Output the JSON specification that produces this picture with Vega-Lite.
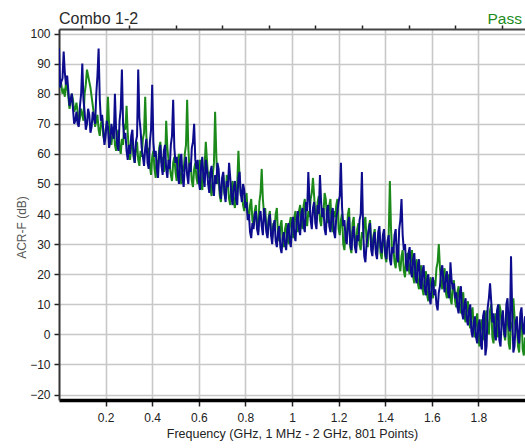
{
  "$schema": "https://vega.github.io/schema/vega-lite/v6.json",
  "width": 466,
  "height": 371,
  "autosize": "none",
  "padding": {"left": 59, "top": 29, "right": 0, "bottom": 48},
  "background": "white",
  "view": {"stroke": null},
  "config": {"font": "Liberation Sans, Arial, sans-serif"},
  "datasets": {
    "navy": [
      {"f":0,"v":95},{"f":0.005,"v":82},{"f":0.01,"v":84},{"f":0.015,"v":85},{"f":0.02,"v":94},{"f":0.025,"v":87},{"f":0.03,"v":83},{"f":0.035,"v":86},{"f":0.04,"v":81},{"f":0.045,"v":76},
      {"f":0.05,"v":78},{"f":0.055,"v":80},{"f":0.06,"v":75},{"f":0.065,"v":70},{"f":0.07,"v":71},{"f":0.075,"v":74},{"f":0.08,"v":70},{"f":0.085,"v":69},{"f":0.09,"v":76},{"f":0.095,"v":80},
      {"f":0.1,"v":90},{"f":0.105,"v":78},{"f":0.11,"v":74},{"f":0.115,"v":68},{"f":0.12,"v":70},{"f":0.125,"v":75},{"f":0.13,"v":73},{"f":0.135,"v":67},{"f":0.14,"v":69},{"f":0.145,"v":74},
      {"f":0.15,"v":72},{"f":0.155,"v":70},{"f":0.16,"v":80},{"f":0.165,"v":86},{"f":0.17,"v":95},{"f":0.175,"v":78},{"f":0.18,"v":71},{"f":0.185,"v":73},{"f":0.19,"v":68},{"f":0.195,"v":63},
      {"f":0.2,"v":66},{"f":0.205,"v":71},{"f":0.21,"v":69},{"f":0.215,"v":62},{"f":0.22,"v":64},{"f":0.225,"v":70},{"f":0.23,"v":67},{"f":0.235,"v":65},{"f":0.24,"v":80},{"f":0.245,"v":68},
      {"f":0.25,"v":63},{"f":0.255,"v":61},{"f":0.26,"v":71},{"f":0.265,"v":75},{"f":0.27,"v":88},{"f":0.275,"v":70},{"f":0.28,"v":65},{"f":0.285,"v":67},{"f":0.29,"v":61},{"f":0.295,"v":58},
      {"f":0.3,"v":63},{"f":0.305,"v":60},{"f":0.31,"v":66},{"f":0.315,"v":68},{"f":0.32,"v":60},{"f":0.325,"v":57},{"f":0.33,"v":64},{"f":0.335,"v":66},{"f":0.34,"v":88},{"f":0.345,"v":72},
      {"f":0.35,"v":68},{"f":0.355,"v":62},{"f":0.36,"v":59},{"f":0.365,"v":56},{"f":0.37,"v":62},{"f":0.375,"v":65},{"f":0.38,"v":57},{"f":0.385,"v":55},{"f":0.39,"v":64},{"f":0.395,"v":68},
      {"f":0.4,"v":83},{"f":0.405,"v":64},{"f":0.41,"v":59},{"f":0.415,"v":61},{"f":0.42,"v":55},{"f":0.425,"v":52},{"f":0.43,"v":60},{"f":0.435,"v":63},{"f":0.44,"v":56},{"f":0.445,"v":53},
      {"f":0.45,"v":61},{"f":0.455,"v":63},{"f":0.46,"v":55},{"f":0.465,"v":52},{"f":0.47,"v":58},{"f":0.475,"v":55},{"f":0.48,"v":63},{"f":0.485,"v":66},{"f":0.49,"v":78},{"f":0.495,"v":62},
      {"f":0.5,"v":57},{"f":0.505,"v":59},{"f":0.51,"v":53},{"f":0.515,"v":50},{"f":0.52,"v":58},{"f":0.525,"v":60},{"f":0.53,"v":52},{"f":0.535,"v":49},{"f":0.54,"v":56},{"f":0.545,"v":59},
      {"f":0.55,"v":53},{"f":0.555,"v":50},{"f":0.56,"v":57},{"f":0.565,"v":54},{"f":0.57,"v":62},{"f":0.575,"v":64},{"f":0.58,"v":70},{"f":0.585,"v":58},{"f":0.59,"v":55},{"f":0.595,"v":58},
      {"f":0.6,"v":51},{"f":0.605,"v":48},{"f":0.61,"v":56},{"f":0.615,"v":59},{"f":0.62,"v":52},{"f":0.625,"v":49},{"f":0.63,"v":58},{"f":0.635,"v":55},{"f":0.64,"v":50},{"f":0.645,"v":47},
      {"f":0.65,"v":54},{"f":0.655,"v":56},{"f":0.66,"v":49},{"f":0.665,"v":46},{"f":0.67,"v":53},{"f":0.675,"v":50},{"f":0.68,"v":57},{"f":0.685,"v":55},{"f":0.69,"v":48},{"f":0.695,"v":45},
      {"f":0.7,"v":52},{"f":0.705,"v":54},{"f":0.71,"v":47},{"f":0.715,"v":44},{"f":0.72,"v":51},{"f":0.725,"v":49},{"f":0.73,"v":57},{"f":0.735,"v":52},{"f":0.74,"v":46},{"f":0.745,"v":43},
      {"f":0.75,"v":49},{"f":0.755,"v":51},{"f":0.76,"v":45},{"f":0.765,"v":43},{"f":0.77,"v":52},{"f":0.775,"v":54},{"f":0.78,"v":47},{"f":0.785,"v":44},{"f":0.79,"v":50},{"f":0.795,"v":48},
      {"f":0.8,"v":42},{"f":0.805,"v":44},{"f":0.81,"v":38},{"f":0.815,"v":40},{"f":0.82,"v":34},{"f":0.825,"v":32},{"f":0.83,"v":37},{"f":0.835,"v":35},{"f":0.84,"v":40},{"f":0.845,"v":41},
      {"f":0.85,"v":35},{"f":0.855,"v":33},{"f":0.86,"v":39},{"f":0.865,"v":41},{"f":0.87,"v":36},{"f":0.875,"v":33},{"f":0.88,"v":42},{"f":0.885,"v":39},{"f":0.89,"v":34},{"f":0.895,"v":32},
      {"f":0.9,"v":38},{"f":0.905,"v":40},{"f":0.91,"v":33},{"f":0.915,"v":30},{"f":0.92,"v":36},{"f":0.925,"v":38},{"f":0.93,"v":31},{"f":0.935,"v":29},{"f":0.94,"v":34},{"f":0.945,"v":36},
      {"f":0.95,"v":29},{"f":0.955,"v":27},{"f":0.96,"v":32},{"f":0.965,"v":34},{"f":0.97,"v":30},{"f":0.975,"v":28},{"f":0.98,"v":35},{"f":0.985,"v":37},{"f":0.99,"v":31},{"f":0.995,"v":29},
      {"f":1,"v":37},{"f":1.005,"v":39},{"f":1.01,"v":33},{"f":1.015,"v":31},{"f":1.02,"v":38},{"f":1.025,"v":41},{"f":1.03,"v":35},{"f":1.035,"v":33},{"f":1.04,"v":40},{"f":1.045,"v":42},
      {"f":1.05,"v":36},{"f":1.055,"v":34},{"f":1.06,"v":44},{"f":1.065,"v":41},{"f":1.07,"v":54},{"f":1.075,"v":45},{"f":1.08,"v":38},{"f":1.085,"v":35},{"f":1.09,"v":42},{"f":1.095,"v":44},
      {"f":1.1,"v":37},{"f":1.105,"v":35},{"f":1.11,"v":43},{"f":1.115,"v":40},{"f":1.12,"v":53},{"f":1.125,"v":44},{"f":1.13,"v":39},{"f":1.135,"v":42},{"f":1.14,"v":35},{"f":1.145,"v":33},
      {"f":1.15,"v":41},{"f":1.155,"v":43},{"f":1.16,"v":36},{"f":1.165,"v":34},{"f":1.17,"v":40},{"f":1.175,"v":42},{"f":1.18,"v":34},{"f":1.185,"v":32},{"f":1.19,"v":39},{"f":1.195,"v":41},
      {"f":1.2,"v":44},{"f":1.205,"v":46},{"f":1.21,"v":57},{"f":1.215,"v":42},{"f":1.22,"v":36},{"f":1.225,"v":38},{"f":1.23,"v":32},{"f":1.235,"v":30},{"f":1.24,"v":37},{"f":1.245,"v":39},
      {"f":1.25,"v":30},{"f":1.255,"v":28},{"f":1.26,"v":34},{"f":1.265,"v":36},{"f":1.27,"v":29},{"f":1.275,"v":27},{"f":1.28,"v":33},{"f":1.285,"v":31},{"f":1.29,"v":38},{"f":1.295,"v":40},
      {"f":1.3,"v":54},{"f":1.305,"v":36},{"f":1.31,"v":26},{"f":1.315,"v":24},{"f":1.32,"v":30},{"f":1.325,"v":33},{"f":1.33,"v":35},{"f":1.335,"v":37},{"f":1.34,"v":28},{"f":1.345,"v":26},
      {"f":1.35,"v":32},{"f":1.355,"v":34},{"f":1.36,"v":27},{"f":1.365,"v":25},{"f":1.37,"v":34},{"f":1.375,"v":36},{"f":1.38,"v":29},{"f":1.385,"v":27},{"f":1.39,"v":33},{"f":1.395,"v":35},
      {"f":1.4,"v":27},{"f":1.405,"v":25},{"f":1.41,"v":31},{"f":1.415,"v":33},{"f":1.42,"v":25},{"f":1.425,"v":23},{"f":1.43,"v":29},{"f":1.435,"v":27},{"f":1.44,"v":33},{"f":1.445,"v":35},
      {"f":1.45,"v":26},{"f":1.455,"v":24},{"f":1.46,"v":35},{"f":1.465,"v":38},{"f":1.47,"v":45},{"f":1.475,"v":33},{"f":1.48,"v":28},{"f":1.485,"v":30},{"f":1.49,"v":23},{"f":1.495,"v":21},
      {"f":1.5,"v":27},{"f":1.505,"v":29},{"f":1.51,"v":21},{"f":1.515,"v":19},{"f":1.52,"v":25},{"f":1.525,"v":27},{"f":1.53,"v":19},{"f":1.535,"v":17},{"f":1.54,"v":23},{"f":1.545,"v":25},
      {"f":1.55,"v":17},{"f":1.555,"v":15},{"f":1.56,"v":21},{"f":1.565,"v":23},{"f":1.57,"v":15},{"f":1.575,"v":13},{"f":1.58,"v":18},{"f":1.585,"v":20},{"f":1.59,"v":12},{"f":1.595,"v":10},
      {"f":1.6,"v":17},{"f":1.605,"v":19},{"f":1.61,"v":13},{"f":1.615,"v":15},{"f":1.62,"v":10},{"f":1.625,"v":8},{"f":1.63,"v":14},{"f":1.635,"v":16},{"f":1.64,"v":21},{"f":1.645,"v":23},
      {"f":1.65,"v":17},{"f":1.655,"v":14},{"f":1.66,"v":19},{"f":1.665,"v":21},{"f":1.67,"v":14},{"f":1.675,"v":12},{"f":1.68,"v":24},{"f":1.685,"v":18},{"f":1.69,"v":15},{"f":1.695,"v":17},
      {"f":1.7,"v":12},{"f":1.705,"v":14},{"f":1.71,"v":9},{"f":1.715,"v":7},{"f":1.72,"v":14},{"f":1.725,"v":16},{"f":1.73,"v":7},{"f":1.735,"v":5},{"f":1.74,"v":10},{"f":1.745,"v":12},
      {"f":1.75,"v":5},{"f":1.755,"v":3},{"f":1.76,"v":8},{"f":1.765,"v":10},{"f":1.77,"v":1},{"f":1.775,"v":-1},{"f":1.78,"v":4},{"f":1.785,"v":6},{"f":1.79,"v":-1},{"f":1.795,"v":-3},
      {"f":1.8,"v":3},{"f":1.805,"v":5},{"f":1.81,"v":-3},{"f":1.815,"v":-5},{"f":1.82,"v":6},{"f":1.825,"v":8},{"f":1.83,"v":-7},{"f":1.835,"v":-4},{"f":1.84,"v":9},{"f":1.845,"v":12},
      {"f":1.85,"v":17},{"f":1.855,"v":11},{"f":1.86,"v":4},{"f":1.865,"v":7},{"f":1.87,"v":0},{"f":1.875,"v":-2},{"f":1.88,"v":8},{"f":1.885,"v":10},{"f":1.89,"v":-2},{"f":1.895,"v":-4},
      {"f":1.9,"v":5},{"f":1.905,"v":8},{"f":1.91,"v":1},{"f":1.915,"v":-1},{"f":1.92,"v":10},{"f":1.925,"v":12},{"f":1.93,"v":3},{"f":1.935,"v":1},{"f":1.94,"v":26},{"f":1.945,"v":8},
      {"f":1.95,"v":-6},{"f":1.955,"v":-4},{"f":1.96,"v":4},{"f":1.965,"v":6},{"f":1.97,"v":-1},{"f":1.975,"v":-3},{"f":1.98,"v":7},{"f":1.985,"v":9},{"f":1.99,"v":2},{"f":1.995,"v":0},
      {"f":2,"v":6}
    ],
    "green": [
      {"f":0,"v":82},{"f":0.005,"v":85},{"f":0.01,"v":83},{"f":0.015,"v":80},{"f":0.02,"v":81},{"f":0.025,"v":79},{"f":0.03,"v":84},{"f":0.035,"v":82},{"f":0.04,"v":79},{"f":0.045,"v":75},
      {"f":0.05,"v":77},{"f":0.055,"v":80},{"f":0.06,"v":78},{"f":0.065,"v":74},{"f":0.07,"v":75},{"f":0.075,"v":77},{"f":0.08,"v":74},{"f":0.085,"v":70},{"f":0.09,"v":72},{"f":0.095,"v":75},
      {"f":0.1,"v":73},{"f":0.105,"v":71},{"f":0.11,"v":80},{"f":0.115,"v":83},{"f":0.12,"v":88},{"f":0.125,"v":86},{"f":0.13,"v":84},{"f":0.135,"v":82},{"f":0.14,"v":79},{"f":0.145,"v":76},
      {"f":0.15,"v":73},{"f":0.155,"v":69},{"f":0.16,"v":71},{"f":0.165,"v":73},{"f":0.17,"v":68},{"f":0.175,"v":66},{"f":0.18,"v":70},{"f":0.185,"v":72},{"f":0.19,"v":66},{"f":0.195,"v":64},
      {"f":0.2,"v":68},{"f":0.205,"v":70},{"f":0.21,"v":79},{"f":0.215,"v":70},{"f":0.22,"v":65},{"f":0.225,"v":63},{"f":0.23,"v":67},{"f":0.235,"v":69},{"f":0.24,"v":63},{"f":0.245,"v":61},
      {"f":0.25,"v":66},{"f":0.255,"v":68},{"f":0.26,"v":62},{"f":0.265,"v":60},{"f":0.27,"v":65},{"f":0.275,"v":63},{"f":0.28,"v":70},{"f":0.285,"v":68},{"f":0.29,"v":76},{"f":0.295,"v":67},
      {"f":0.3,"v":61},{"f":0.305,"v":58},{"f":0.31,"v":63},{"f":0.315,"v":65},{"f":0.32,"v":59},{"f":0.325,"v":57},{"f":0.33,"v":62},{"f":0.335,"v":64},{"f":0.34,"v":58},{"f":0.345,"v":56},
      {"f":0.35,"v":61},{"f":0.355,"v":59},{"f":0.36,"v":65},{"f":0.365,"v":67},{"f":0.37,"v":79},{"f":0.375,"v":66},{"f":0.38,"v":60},{"f":0.385,"v":62},{"f":0.39,"v":56},{"f":0.395,"v":53},
      {"f":0.4,"v":59},{"f":0.405,"v":61},{"f":0.41,"v":55},{"f":0.415,"v":52},{"f":0.42,"v":58},{"f":0.425,"v":56},{"f":0.43,"v":62},{"f":0.435,"v":64},{"f":0.44,"v":57},{"f":0.445,"v":59},
      {"f":0.45,"v":54},{"f":0.455,"v":56},{"f":0.46,"v":71},{"f":0.465,"v":62},{"f":0.47,"v":58},{"f":0.475,"v":56},{"f":0.48,"v":53},{"f":0.485,"v":51},{"f":0.49,"v":57},{"f":0.495,"v":59},
      {"f":0.5,"v":54},{"f":0.505,"v":51},{"f":0.51,"v":58},{"f":0.515,"v":60},{"f":0.52,"v":52},{"f":0.525,"v":50},{"f":0.53,"v":56},{"f":0.535,"v":54},{"f":0.54,"v":60},{"f":0.545,"v":63},
      {"f":0.55,"v":78},{"f":0.555,"v":62},{"f":0.56,"v":55},{"f":0.565,"v":57},{"f":0.57,"v":51},{"f":0.575,"v":49},{"f":0.58,"v":55},{"f":0.585,"v":57},{"f":0.59,"v":52},{"f":0.595,"v":50},
      {"f":0.6,"v":56},{"f":0.605,"v":58},{"f":0.61,"v":50},{"f":0.615,"v":48},{"f":0.62,"v":54},{"f":0.625,"v":56},{"f":0.63,"v":64},{"f":0.635,"v":58},{"f":0.64,"v":52},{"f":0.645,"v":54},
      {"f":0.65,"v":48},{"f":0.655,"v":46},{"f":0.66,"v":53},{"f":0.665,"v":57},{"f":0.67,"v":74},{"f":0.675,"v":60},{"f":0.68,"v":50},{"f":0.685,"v":52},{"f":0.69,"v":46},{"f":0.695,"v":44},
      {"f":0.7,"v":51},{"f":0.705,"v":53},{"f":0.71,"v":47},{"f":0.715,"v":45},{"f":0.72,"v":53},{"f":0.725,"v":50},{"f":0.73,"v":45},{"f":0.735,"v":43},{"f":0.74,"v":49},{"f":0.745,"v":51},
      {"f":0.75,"v":44},{"f":0.755,"v":42},{"f":0.76,"v":48},{"f":0.765,"v":50},{"f":0.77,"v":61},{"f":0.775,"v":52},{"f":0.78,"v":46},{"f":0.785,"v":48},{"f":0.79,"v":43},{"f":0.795,"v":41},
      {"f":0.8,"v":45},{"f":0.805,"v":47},{"f":0.81,"v":40},{"f":0.815,"v":38},{"f":0.82,"v":43},{"f":0.825,"v":45},{"f":0.83,"v":38},{"f":0.835,"v":36},{"f":0.84,"v":41},{"f":0.845,"v":43},
      {"f":0.85,"v":36},{"f":0.855,"v":34},{"f":0.86,"v":44},{"f":0.865,"v":47},{"f":0.87,"v":55},{"f":0.875,"v":45},{"f":0.88,"v":40},{"f":0.885,"v":42},{"f":0.89,"v":35},{"f":0.895,"v":33},
      {"f":0.9,"v":39},{"f":0.905,"v":41},{"f":0.91,"v":34},{"f":0.915,"v":32},{"f":0.92,"v":37},{"f":0.925,"v":35},{"f":0.93,"v":40},{"f":0.935,"v":42},{"f":0.94,"v":33},{"f":0.945,"v":31},
      {"f":0.95,"v":36},{"f":0.955,"v":38},{"f":0.96,"v":31},{"f":0.965,"v":29},{"f":0.97,"v":35},{"f":0.975,"v":37},{"f":0.98,"v":32},{"f":0.985,"v":30},{"f":0.99,"v":37},{"f":0.995,"v":39},
      {"f":1,"v":34},{"f":1.005,"v":32},{"f":1.01,"v":39},{"f":1.015,"v":41},{"f":1.02,"v":36},{"f":1.025,"v":34},{"f":1.03,"v":41},{"f":1.035,"v":43},{"f":1.04,"v":37},{"f":1.045,"v":35},
      {"f":1.05,"v":43},{"f":1.055,"v":45},{"f":1.06,"v":38},{"f":1.065,"v":36},{"f":1.07,"v":41},{"f":1.075,"v":39},{"f":1.08,"v":45},{"f":1.085,"v":47},{"f":1.09,"v":52},{"f":1.095,"v":46},
      {"f":1.1,"v":40},{"f":1.105,"v":38},{"f":1.11,"v":44},{"f":1.115,"v":46},{"f":1.12,"v":38},{"f":1.125,"v":36},{"f":1.13,"v":42},{"f":1.135,"v":40},{"f":1.14,"v":47},{"f":1.145,"v":45},
      {"f":1.15,"v":39},{"f":1.155,"v":37},{"f":1.16,"v":43},{"f":1.165,"v":45},{"f":1.17,"v":36},{"f":1.175,"v":34},{"f":1.18,"v":41},{"f":1.185,"v":39},{"f":1.19,"v":43},{"f":1.195,"v":45},
      {"f":1.2,"v":35},{"f":1.205,"v":33},{"f":1.21,"v":38},{"f":1.215,"v":40},{"f":1.22,"v":30},{"f":1.225,"v":28},{"f":1.23,"v":34},{"f":1.235,"v":32},{"f":1.24,"v":40},{"f":1.245,"v":42},
      {"f":1.25,"v":29},{"f":1.255,"v":27},{"f":1.26,"v":37},{"f":1.265,"v":39},{"f":1.27,"v":31},{"f":1.275,"v":29},{"f":1.28,"v":35},{"f":1.285,"v":37},{"f":1.29,"v":30},{"f":1.295,"v":28},
      {"f":1.3,"v":34},{"f":1.305,"v":32},{"f":1.31,"v":37},{"f":1.315,"v":39},{"f":1.32,"v":31},{"f":1.325,"v":29},{"f":1.33,"v":36},{"f":1.335,"v":38},{"f":1.34,"v":30},{"f":1.345,"v":28},
      {"f":1.35,"v":33},{"f":1.355,"v":35},{"f":1.36,"v":28},{"f":1.365,"v":26},{"f":1.37,"v":32},{"f":1.375,"v":34},{"f":1.38,"v":27},{"f":1.385,"v":25},{"f":1.39,"v":31},{"f":1.395,"v":33},
      {"f":1.4,"v":26},{"f":1.405,"v":24},{"f":1.41,"v":30},{"f":1.415,"v":33},{"f":1.42,"v":51},{"f":1.425,"v":35},{"f":1.43,"v":27},{"f":1.435,"v":29},{"f":1.44,"v":24},{"f":1.445,"v":22},
      {"f":1.45,"v":28},{"f":1.455,"v":30},{"f":1.46,"v":23},{"f":1.465,"v":21},{"f":1.47,"v":26},{"f":1.475,"v":28},{"f":1.48,"v":21},{"f":1.485,"v":19},{"f":1.49,"v":25},{"f":1.495,"v":27},
      {"f":1.5,"v":22},{"f":1.505,"v":20},{"f":1.51,"v":26},{"f":1.515,"v":28},{"f":1.52,"v":19},{"f":1.525,"v":17},{"f":1.53,"v":23},{"f":1.535,"v":25},{"f":1.54,"v":17},{"f":1.545,"v":15},
      {"f":1.55,"v":21},{"f":1.555,"v":23},{"f":1.56,"v":15},{"f":1.565,"v":13},{"f":1.57,"v":19},{"f":1.575,"v":21},{"f":1.58,"v":13},{"f":1.585,"v":11},{"f":1.59,"v":17},{"f":1.595,"v":19},
      {"f":1.6,"v":14},{"f":1.605,"v":12},{"f":1.61,"v":18},{"f":1.615,"v":16},{"f":1.62,"v":22},{"f":1.625,"v":24},{"f":1.63,"v":30},{"f":1.635,"v":22},{"f":1.64,"v":17},{"f":1.645,"v":15},
      {"f":1.65,"v":20},{"f":1.655,"v":22},{"f":1.66,"v":14},{"f":1.665,"v":12},{"f":1.67,"v":18},{"f":1.675,"v":20},{"f":1.68,"v":12},{"f":1.685,"v":10},{"f":1.69,"v":16},{"f":1.695,"v":18},
      {"f":1.7,"v":11},{"f":1.705,"v":9},{"f":1.71,"v":14},{"f":1.715,"v":16},{"f":1.72,"v":9},{"f":1.725,"v":7},{"f":1.73,"v":12},{"f":1.735,"v":14},{"f":1.74,"v":6},{"f":1.745,"v":4},
      {"f":1.75,"v":9},{"f":1.755,"v":11},{"f":1.76,"v":4},{"f":1.765,"v":2},{"f":1.77,"v":7},{"f":1.775,"v":9},{"f":1.78,"v":1},{"f":1.785,"v":-1},{"f":1.79,"v":5},{"f":1.795,"v":7},
      {"f":1.8,"v":-2},{"f":1.805,"v":-4},{"f":1.81,"v":3},{"f":1.815,"v":5},{"f":1.82,"v":0},{"f":1.825,"v":-2},{"f":1.83,"v":6},{"f":1.835,"v":8},{"f":1.84,"v":2},{"f":1.845,"v":0},
      {"f":1.85,"v":8},{"f":1.855,"v":10},{"f":1.86,"v":-1},{"f":1.865,"v":-3},{"f":1.87,"v":5},{"f":1.875,"v":7},{"f":1.88,"v":1},{"f":1.885,"v":-1},{"f":1.89,"v":10},{"f":1.895,"v":8},
      {"f":1.9,"v":3},{"f":1.905,"v":5},{"f":1.91,"v":0},{"f":1.915,"v":-2},{"f":1.92,"v":6},{"f":1.925,"v":8},{"f":1.93,"v":-3},{"f":1.935,"v":-5},{"f":1.94,"v":4},{"f":1.945,"v":2},
      {"f":1.95,"v":12},{"f":1.955,"v":6},{"f":1.96,"v":1},{"f":1.965,"v":3},{"f":1.97,"v":-4},{"f":1.975,"v":-6},{"f":1.98,"v":5},{"f":1.985,"v":7},{"f":1.99,"v":-5},{"f":1.995,"v":-7},
      {"f":2,"v":-1}
    ]
  },
  "layer": [
    {
      "data": {"name": "green"},
      "mark": {"type": "line", "color": "#1b8a1b", "strokeWidth": 2, "clip": true},
      "encoding": {
        "x": {"field": "f", "type": "quantitative", "scale": {"domain": [0, 2], "nice": false, "zero": false},
          "axis": {"values": [0.2, 0.4, 0.6, 0.8, 1, 1.2, 1.4, 1.6, 1.8], "format": "~g", "grid": true, "gridColor": "#c8c8c8", "gridWidth": 1.6,
            "domainColor": "#000000", "domainWidth": 3.5, "tickColor": "#222222", "tickWidth": 1.5, "tickSize": 6,
            "labelFontSize": 12, "labelColor": "#222222", "labelPadding": 6,
            "title": "Frequency (GHz, 1 MHz - 2 GHz, 801 Points)", "titleFontSize": 12.5, "titleFontWeight": "normal", "titleColor": "#222222", "titlePadding": 4}},
        "y": {"field": "v", "type": "quantitative", "scale": {"domain": [-21.8, 101.5], "nice": false, "zero": false},
          "axis": {"values": [-20, -10, 0, 10, 20, 30, 40, 50, 60, 70, 80, 90, 100], "grid": true, "gridColor": "#c8c8c8", "gridWidth": 1.6,
            "domainColor": "#333333", "domainWidth": 2, "tickColor": "#222222", "tickWidth": 1.5, "tickSize": 5,
            "labelFontSize": 12, "labelColor": "#222222", "labelPadding": 4,
            "title": "ACR-F (dB)", "titleFontSize": 12, "titleFontWeight": "normal", "titleColor": "#555555",
            "titleX": -34, "titleY": 198, "titleBaseline": "alphabetic", "titleAlign": "center", "titleAngle": 270}}
      }
    },
    {
      "data": {"name": "navy"},
      "mark": {"type": "line", "color": "#0c0c8c", "strokeWidth": 2, "clip": true},
      "encoding": {
        "x": {"field": "f", "type": "quantitative",
          "axis": {"values": [0.1, 0.3, 0.5, 0.7, 0.9, 1.1, 1.3, 1.5, 1.7, 1.9], "labels": false, "grid": false, "domain": false, "tickColor": "#222222", "tickWidth": 1.5, "tickSize": 4, "title": null}},
        "y": {"field": "v", "type": "quantitative",
          "axis": {"values": [-15, -5, 5, 15, 25, 35, 45, 55, 65, 75, 85, 95], "labels": false, "grid": false, "domain": false, "tickColor": "#222222", "tickWidth": 1.5, "tickSize": 3, "title": null}}
      }
    },
    {
      "data": {"values": [{"label": "Pass"}]},
      "mark": {"type": "text", "align": "right", "baseline": "alphabetic", "fontSize": 15.5, "color": "#1b8c1b"},
      "encoding": {
        "x": {"datum": 1.987, "type": "quantitative",
          "axis": {"orient": "top", "labels": false, "ticks": false, "grid": false, "domain": true, "domainColor": "#444444", "domainWidth": 2, "title": null}},
        "y": {"datum": 103.2, "type": "quantitative", "axis": null},
        "text": {"field": "label"}
      }
    },
    {
      "data": {"values": [{"label": "Combo 1-2"}]},
      "mark": {"type": "text", "align": "left", "baseline": "alphabetic", "fontSize": 16, "color": "#2a2a2a"},
      "encoding": {
        "x": {"datum": 0, "type": "quantitative", "axis": null},
        "y": {"datum": 103.2, "type": "quantitative", "axis": null},
        "text": {"field": "label"}
      }
    }
  ],
  "resolve": {"axis": {"x": "independent", "y": "independent"}}
}
